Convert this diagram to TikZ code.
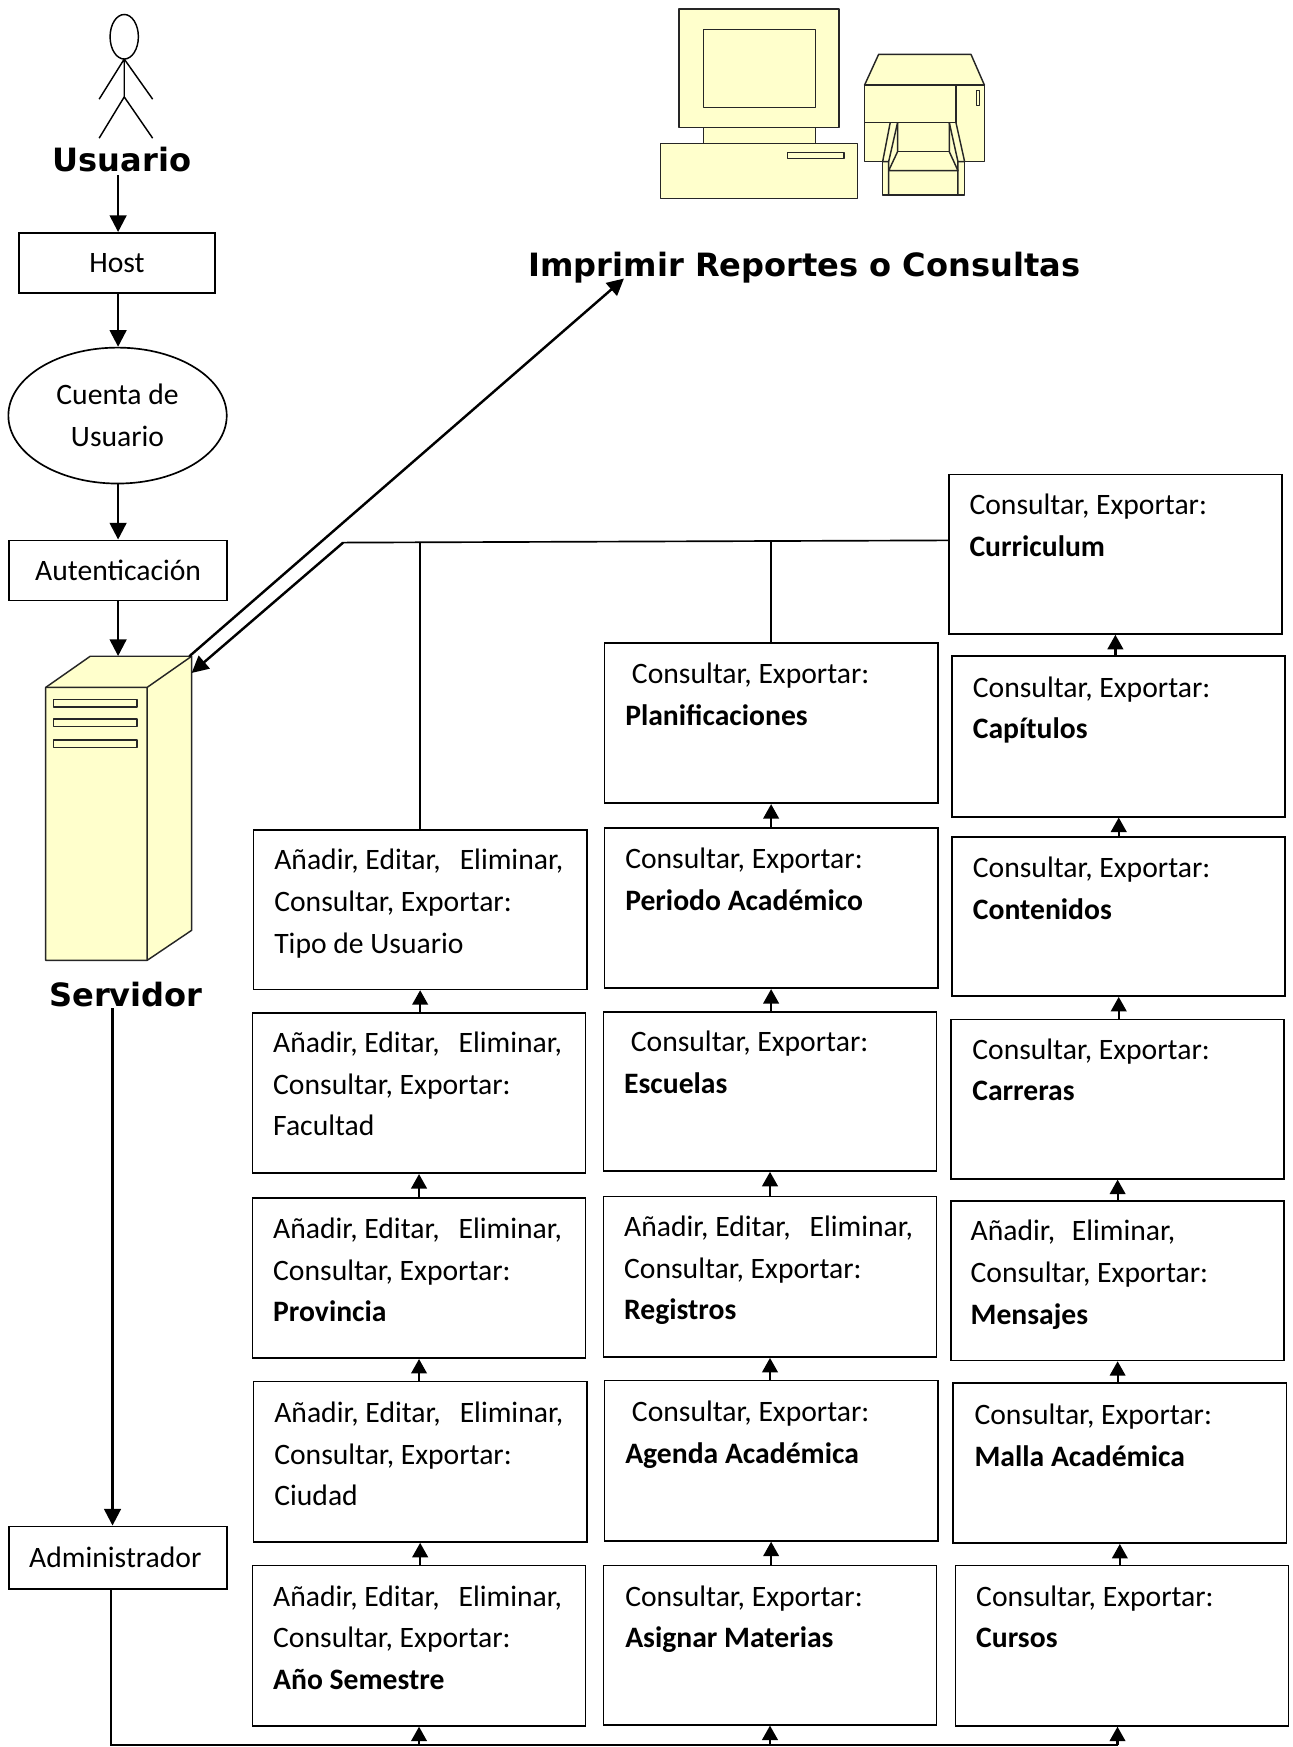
\documentclass[tikz,border=0pt]{standalone}
\usepackage{fontspec}
\usetikzlibrary{arrows.meta,shapes.geometric}
\setmainfont{Carlito}
\newfontfamily\hdfont{DejaVu Sans}
\definecolor{cream}{HTML}{FFFFCC}
\newcommand{\bodyfs}{\fontsize{26.6}{37.3}\selectfont}
\newcommand{\hdfs}{\hdfont\bfseries\fontsize{28.8}{32}\selectfont}
\newcommand{\boxat}[6]{%
  \node[wbox,minimum width=#4pt-#2pt,minimum height=#5pt-#3pt] (#1) at ({(#2+#4)/2+0.6},{(#3+#5)/2}) {};
  #6}
\newcommand{\txt}[4]{\node[boxtext] (#1t) at (#2,#3+0.5) {\strut #4};}
\newcommand{\opsAE}{Añadir, Editar,\ \ \hspace{5pt}Eliminar,\\Consultar, Exportar:}
\newcommand{\opsCE}{Consultar, Exportar:}
\tikzset{
  x=1pt,y=-1pt,
  wbox/.style={draw=black,line width=1.5pt,fill=white,inner sep=0pt,rectangle},
  simple/.style={draw=black,line width=1.5pt,fill=white,inner sep=0pt,font=\bodyfs,align=center},
  boxtext/.style={anchor=north west,inner sep=0pt,align=left,font=\bodyfs},
  head/.style={inner sep=0pt,font=\hdfs},
  big/.style={-{Triangle[length=15pt,width=15pt]},line width=2.2pt,draw=black},
  small/.style={-{Triangle[length=13pt,width=14pt]},line width=2pt,draw=black},
  plain/.style={line width=1.5pt,draw=black},
  ghost/.style={inner sep=0pt,rectangle},
  art/.style={draw=black!85,line width=1.3pt,fill=cream,line join=round},
  artline/.style={draw=black!85,line width=1.3pt,line join=round},
  stick/.style={draw=black,line width=1.3pt},
}
\begin{document}
\begin{tikzpicture}
\useasboundingbox (0,0) rectangle (1160,1568);
\fill[white] (0,0) rectangle (1160,1568);
% actor
\draw[stick] (111.5,33) ellipse (12.7pt and 20pt);
\draw[stick] (111.5,53) -- (111.5,87) (111.5,53) -- (89,89) (111.5,53) -- (137,89)
  (89,124) -- (111.5,87) -- (137,124);
\node[head] (usuario) at (109.5,143) {Usuario};
% computer
\draw[art] (631.3,114.6) rectangle (731.7,128.7);
\draw[art] (609.6,8) rectangle (753,114.6);
\draw[art] (631.3,26.3) rectangle (731.7,96.7);
\draw[art] (593,128.7) rectangle (769.6,178);
\draw[art] (707,136.7) rectangle (757.7,142.4);
% printer
\draw[art] (776,76.3) -- (788.6,48.8) -- (871.5,48.8) -- (883.5,76.3) -- cycle;
\draw[art] (776,76.3) -- (883.5,76.3) -- (883.5,145.1) -- (865.8,145.1) -- (865.8,175)
  -- (792.2,175) -- (792.2,145.1) -- (776,145.1) -- cycle;
\draw[artline] (776,110) -- (858,110) (858,76.3) -- (858,110);
\draw[art] (876.4,81.4) rectangle (879.3,94.6);
\draw[artline] (799,110) -- (792.2,145.1) -- (797.6,145.1);
\draw[artline] (805.6,110) -- (797.6,145.1) -- (797.6,175);
\draw[artline] (805.6,110) -- (805.6,136.1) -- (797.6,153.2) -- (859.8,153.2) -- (852,136.1) -- (852,110);
\draw[artline] (805.6,136.1) -- (852,136.1);
\draw[artline] (852,110) -- (859.8,145.1) -- (859.8,175);
\draw[artline] (858,110) -- (865.8,145.1) -- (859.8,145.1);
\node[head] (imprimir) at (722,240) {Imprimir Reportes o Consultas};
% left column
\node[simple,minimum width=176pt,minimum height=54pt] (host) at (105,236) {Host};
\node[simple,ellipse,minimum width=196pt,minimum height=122pt] (cuenta) at (105.5,373) {Cuenta de\\[0pt]Usuario};
\node[simple,minimum width=196pt,minimum height=54pt] (auten) at (106,512) {Autenticación};
\node[simple,minimum width=196pt,minimum height=56pt] (admin) at (106,1398) {Administrador\hspace*{5pt}};
% server
\node[ghost,minimum width=131pt,minimum height=273pt] (server) at (106.5,725.5) {};
\draw[art] (41,617) -- (81,589) -- (172,589) -- (172,835) -- (132,862) -- (41,862) -- cycle;
\draw[artline] (41,617) -- (132,617) -- (172,589) (132,617) -- (132,862);
\draw[art] (48,628) rectangle (123,634.5);
\draw[art] (48,645.5) rectangle (123,652);
\draw[art] (48,664) rectangle (123,670.7);
\node[head] (servidor) at (113,893) {Servidor};
% column 1
\boxat{tipo}{227}{745}{526}{888}{\txt{tipo}{246}{754}{\opsAE\\Tipo de Usuario}}
\boxat{facultad}{226}{909}{525}{1053}{\txt{facultad}{245}{918}{\opsAE\\Facultad}}
\boxat{provincia}{226}{1075}{525}{1219}{\txt{provincia}{245}{1085}{\opsAE\\\textbf{Provincia}}}
\boxat{ciudad}{227}{1240}{526}{1384}{\txt{ciudad}{246}{1250}{\opsAE\\Ciudad}}
\boxat{anio}{226}{1405}{525}{1549}{\txt{anio}{245}{1415}{\opsAE\\\textbf{Año Semestre}}}
% column 2
\boxat{planif}{542}{577}{841}{721}{\txt{planif}{561}{587}{\hspace*{6pt}\opsCE\\\textbf{Planificaciones}}}
\boxat{periodo}{542}{743}{841}{887}{\txt{periodo}{561}{753}{\opsCE\\\textbf{Periodo Académico}}}
\boxat{escuelas}{541}{908}{840}{1051}{\txt{escuelas}{560}{917}{\hspace*{6pt}\opsCE\\\textbf{Escuelas}}}
\boxat{registros}{541}{1074}{840}{1218}{\txt{registros}{560}{1083}{\opsAE\\\textbf{Registros}}}
\boxat{agenda}{542}{1239}{841}{1383}{\txt{agenda}{561}{1249}{\hspace*{6pt}\opsCE\\\textbf{Agenda Académica}}}
\boxat{asignar}{541}{1405}{840}{1548}{\txt{asignar}{561}{1415}{\opsCE\\\textbf{Asignar Materias}}}
% column 3
\boxat{curr}{851}{426}{1150}{569}{\txt{curr}{870}{435}{\opsCE\\\textbf{Curriculum}}}
\boxat{capi}{854}{589}{1153}{733}{\txt{capi}{873}{599}{\opsCE\\\textbf{Capítulos}}}
\boxat{cont}{854}{751}{1153}{894}{\txt{cont}{873}{761}{\opsCE\\\textbf{Contenidos}}}
\boxat{carr}{853}{915}{1152}{1058}{\txt{carr}{872.5}{924}{\opsCE\\\textbf{Carreras}}}
\boxat{mens}{853}{1078}{1152}{1221}{\txt{mens}{871}{1087}{Añadir,\ \ \hspace{3pt}Eliminar,\\\opsCE\\\textbf{Mensajes}}}
\boxat{malla}{855}{1241}{1154}{1385}{\txt{malla}{874.5}{1252}{\opsCE\\\textbf{Malla Académica}}}
\boxat{cursos}{857}{1405}{1156}{1549}{\txt{cursos}{876}{1415}{\opsCE\\\textbf{Cursos}}}
% left flow arrows
\coordinate (usr) at (106,157);
\draw[big] (usr) -- (usr |- host.north);
\draw[big] (usr |- host.south) -- (usr |- cuenta.north);
\draw[big] (usr |- cuenta.south) -- (usr |- auten.north);
\draw[big] (usr |- auten.south) -- (usr |- server.north);
\coordinate (srvdown) at (101,905);
\draw[big] (srvdown) -- (srvdown |- admin.north);
% printing arrow and return line
\coordinate (srvout) at (170,589);
\coordinate (printin) at (560,250);
\draw[big] (srvout) -- (printin);
\coordinate (elbow) at (308,487);
\coordinate (srvin) at (172,604);
\draw[plain] (curr.west |- 0,485) -- (elbow);
\draw[big] (elbow) -- (srvin);
\draw[plain] (tipo.north) -- (tipo.north |- elbow);
\draw[plain] (planif.north) -- (planif.north |- 0,486);
% chains of small arrows
\foreach \lo/\up in {facultad/tipo,provincia/facultad,ciudad/provincia,anio/ciudad,
  periodo/planif,escuelas/periodo,registros/escuelas,agenda/registros,asignar/agenda,
  capi/curr,cont/capi,carr/cont,mens/carr,malla/mens,cursos/malla}{
  \draw[small] (\lo.north -| \up.south) -- (\up.south);
}
% bottom bus
\coordinate (busl) at (99.5,1566);
\coordinate (busr) at (1003,1566);
\draw[plain] (busl |- admin.south) -- (busl) -- (busr);
\draw[small] (anio.south |- busl) -- (anio.south);
\draw[small] (asignar.south |- busl) -- (asignar.south);
\draw[small] (busr) -- (busr |- cursos.south);
\end{tikzpicture}
\end{document}
